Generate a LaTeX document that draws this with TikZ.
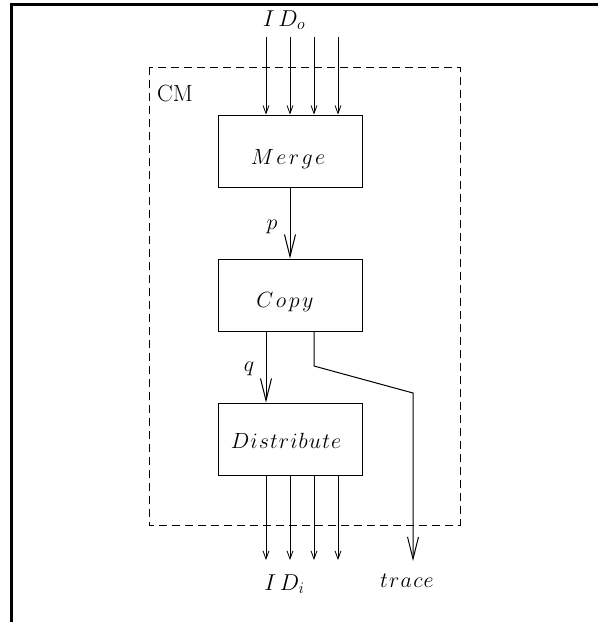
\RequirePackage{fix-cm}
\documentclass[tikz,border=0pt]{standalone}
\usetikzlibrary{arrows.meta}
\begin{document}
\begin{tikzpicture}[x=1pt,y=-1pt,
  blk/.style={draw, line width=0.9pt, minimum width=144pt, minimum height=72pt, inner sep=0pt},
  lbl/.style={font=\fontsize{22}{26}\selectfont, inner sep=0pt},
  sarr/.style={-{Straight Barb[length=8pt,width=6pt]}, line width=0.8pt},
  barr/.style={-{Straight Barb[length=22pt,width=11pt]}, line width=1pt},
  frameline/.style={line width=3pt},
  cmbox/.style={dash pattern=on 8pt off 5pt, line width=0.9pt}]
\useasboundingbox (0,0) rectangle (598,622);
\draw[frameline] (11.5,622) -- (11.5,4) -- (598,4);
\draw[cmbox] (149,67) rectangle (460,525);
\node[lbl, font=\fontsize{23.5}{28}\selectfont, anchor=base west] (cm) at (157,101.5) {CM};
% blocks
\node[blk] (merge) at (290,151) {};
\node[blk] (copy) at (290,295) {};
\node[blk] (dist) at (290,439) {};
\node[lbl, anchor=base] (mergeT) at (288,164) {$M\mkern2mu e\mkern2mu r\mkern2mu g\mkern2mu e$};
\node[lbl, anchor=base] (copyT) at (285,307) {$C\mkern2.1mu o\mkern2.1mu p\mkern2.1mu y$};
\node[lbl, anchor=base] (distT) at (286,448) {$D\mkern0.9mu i\mkern0.9mu s\mkern0.9mu t\mkern0.9mu r\mkern0.9mu i\mkern0.9mu b\mkern0.9mu u\mkern0.9mu t\mkern0.9mu e$};
% inputs and outputs
\foreach \i/\x in {1/266,2/290,3/314,4/338}{
  \coordinate (in\i) at (\x,37);
  \draw[sarr] (in\i) -- (in\i |- merge.north);
  \coordinate (out\i) at (\x,560);
  \draw[sarr] (out\i |- dist.south) -- (out\i);
}
\node[lbl, font=\fontsize{23}{27}\selectfont, anchor=base] (ido) at (284,26) {$I\mkern3mu D_{o}$};
\node[lbl, font=\fontsize{23}{27}\selectfont, anchor=base] (idi) at (284.5,590) {$I\mkern3mu D_{i}$};
% p, q
\draw[barr] (merge.south) -- (copy.north);
\node[lbl, anchor=base] (plab) at (272,229) {$p$};
\coordinate (qx) at (266,0);
\draw[barr] (qx |- copy.south) -- (qx |- dist.north);
\node[lbl, anchor=base] (qlab) at (249,371) {$q$};
% trace
\coordinate (t1) at (314,366);
\coordinate (t2) at (413,393);
\coordinate (tend) at (413,561);
\draw[barr] (t1 |- copy.south) -- (t1) -- (t2) -- (tend);
\node[lbl, anchor=base] (tr) at (407,587) {$t\mkern1mu r\mkern1mu a\mkern1mu c\mkern1mu e$};
\end{tikzpicture}
\end{document}
